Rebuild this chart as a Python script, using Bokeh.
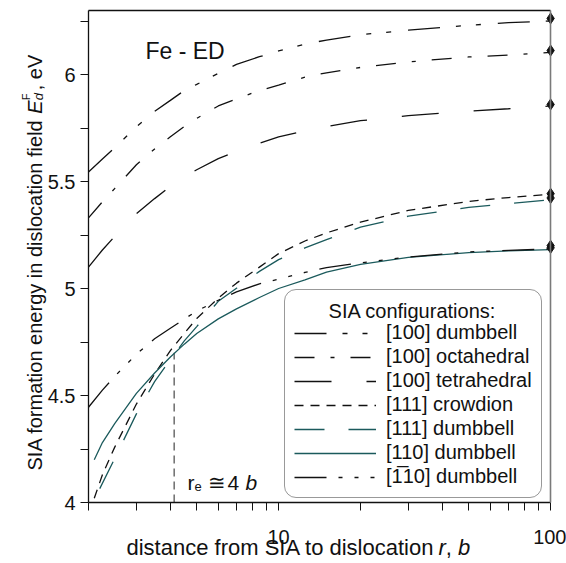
import math
from bokeh.plotting import figure
from bokeh.models import (Legend, LegendItem, Label, FixedTicker, LogAxis,
                          LinearAxis, PrintfTickFormatter, Range1d)
from bokeh.embed import file_html
from bokeh.resources import INLINE

# ---------------- data ----------------
r_a = [2, 2.25, 2.5, 3, 3.5, 4, 4.5, 5, 6, 7, 8.5, 10, 12.5, 15, 20, 30, 50, 70, 100]
r_b = [2.1, 2.25, 2.5, 3, 3.5, 4, 4.5, 5, 6, 7, 8.5, 10, 12.5, 15, 20, 30, 50, 70, 100]
r_c = [2.2, 2.5, 3, 3.5, 4, 4.5, 5, 6, 7, 8.5, 10, 12.5, 15, 20, 30, 50, 70, 100]

e_100_dumbbell = [5.544, 5.605, 5.658, 5.756, 5.828, 5.879, 5.925, 5.954, 6.005, 6.047,
                  6.083, 6.110, 6.142, 6.161, 6.186, 6.207, 6.230, 6.242, 6.250]
e_100_octahedral = [5.330, 5.405, 5.468, 5.578, 5.652, 5.709, 5.757, 5.795, 5.853, 5.886,
                    5.925, 5.950, 5.988, 6.008, 6.033, 6.059, 6.082, 6.091, 6.103]
e_100_tetrahedral = [5.100, 5.180, 5.244, 5.349, 5.420, 5.477, 5.520, 5.555, 5.607, 5.641,
                     5.679, 5.709, 5.737, 5.757, 5.784, 5.808, 5.829, 5.840, 5.853]
e_111_crowdion = [4.020, 4.130, 4.260, 4.460, 4.600, 4.710, 4.790, 4.860, 4.955, 5.025,
                  5.100, 5.163, 5.222, 5.260, 5.310, 5.365, 5.407, 5.425, 5.440]
e_111_dumbbell = [4.065, 4.207, 4.414, 4.565, 4.668, 4.755, 4.822, 4.940, 5.001,
                  5.080, 5.135, 5.190, 5.228, 5.287, 5.338, 5.379, 5.397, 5.415]
e_110_dumbbell = [4.200, 4.280, 4.370, 4.510, 4.605, 4.680, 4.740, 4.790, 4.858, 4.905,
                  4.958, 5.000, 5.040, 5.077, 5.113, 5.145, 5.168, 5.176, 5.182]
e_m110_dumbbell = [4.445, 4.525, 4.590, 4.693, 4.765, 4.814, 4.857, 4.895, 4.945, 4.984,
                   5.022, 5.044, 5.075, 5.098, 5.120, 5.147, 5.171, 5.178, 5.185]

r_end = [100, 100, 100, 100, 100, 100, 100]
e_end = [6.262, 6.112, 5.860, 5.443, 5.423, 5.190, 5.200]

r_e = [4.13]
e_re_low = [4.0]
e_re_high = [4.70]

x_limits = (2, 100)
y_limits = (4, 6.3)
x_major_ticks = [10, 100]
x_minor_ticks = [2, 3, 4, 5, 6, 7, 8, 9, 20, 30, 40, 50, 60, 70, 80, 90]
y_major_ticks = [4, 4.5, 5, 5.5, 6]
y_minor_ticks = [4.25, 4.75, 5.25, 5.75, 6.25]
y_tick_labels = ["4", "4.5", "5", "5.5", "6"]

labels = ["[100] dumbbell", "[100] octahedral", "[100] tetrahedral",
          "[111] crowdion", "[111] dumbbell", "[110] dumbbell",
          "[1\u0305" + "10] dumbbell"]

# ---------------- geometry ----------------
FONT = "Liberation Sans"
BLACK = "#111111"
TEAL = "#1b5a5c"
W, H = 566, 563
PX_X2 = 88.0      # page x of r = 2
PX_DEC = 272.0    # pixels per decade
PY_Y4 = 502.0     # page y of E = 4
PY_UNIT = 214.0   # pixels per eV

def dx(px):  # page px -> data x
    return x_limits[0] * 10 ** ((px - PX_X2) / PX_DEC)

def dy(py):  # page px -> data y
    return y_limits[0] + (PY_Y4 - py) / PY_UNIT

# The frame covers the whole canvas; axes are pinned with fixed_location,
# so every text (titles included) lies inside the frame.
p = figure(width=W, height=H, x_axis_type="log",
           x_range=Range1d(dx(0), dx(W)), y_range=Range1d(dy(H), dy(0)),
           output_backend="svg", toolbar_location=None, min_border=0)
p.grid.visible = False
p.outline_line_color = None
p.background_fill_color = "white"
p.border_fill_color = "white"

xa = p.xaxis[0]
xa.fixed_location = y_limits[0]
xa.bounds = x_limits
xa.ticker = FixedTicker(ticks=x_major_ticks, minor_ticks=x_minor_ticks)
xa.formatter = PrintfTickFormatter(format="%d")
ya = p.yaxis[0]
ya.fixed_location = x_limits[0]
ya.bounds = y_limits
ya.ticker = FixedTicker(ticks=y_major_ticks, minor_ticks=y_minor_ticks)
ya.major_label_overrides = {v: s for v, s in zip(y_major_ticks, y_tick_labels)}
for ax in (xa, ya):
    ax.major_tick_in = 0
    ax.major_tick_out = 8
    ax.minor_tick_in = 0
    ax.minor_tick_out = 8
    ax.axis_line_color = BLACK
    ax.axis_line_width = 1.3
    ax.major_tick_line_color = BLACK
    ax.minor_tick_line_color = BLACK
    ax.major_tick_line_width = 1
    ax.minor_tick_line_width = 1
    ax.major_label_text_font = FONT
    ax.major_label_text_font_size = "20px"
    ax.major_label_text_color = BLACK
xa.major_label_standoff = 19
ya.major_label_standoff = 5

# top border (black) and right border at r = 100 (gray)
top = LogAxis(fixed_location=y_limits[1], bounds=x_limits,
              ticker=FixedTicker(ticks=[], minor_ticks=[]),
              axis_line_color=BLACK, axis_line_width=1.3,
              major_tick_line_color=None, minor_tick_line_color=None,
              major_label_text_font_size="0px")
p.add_layout(top, "above")
right = LinearAxis(fixed_location=x_limits[1], bounds=y_limits,
                   ticker=FixedTicker(ticks=[], minor_ticks=[]),
                   axis_line_color="#7a7a7a", axis_line_width=1.6,
                   major_tick_line_color=None, minor_tick_line_color=None,
                   major_label_text_font_size="0px")
p.add_layout(right, "right")

p.segment(x0=r_e, y0=e_re_low, x1=r_e, y1=e_re_high, line_color="#555555",
          line_width=1.3, line_dash="8 5")

specs = [
    (r_a, e_100_dumbbell, BLACK, "32 16 5 15 5 17"),
    (r_a, e_100_octahedral, BLACK, "20 16 4 16"),
    (r_a, e_100_tetrahedral, BLACK, "37 35"),
    (r_b, e_111_crowdion, BLACK, "9 7"),
    (r_c, e_111_dumbbell, TEAL, "30 24"),
    (r_b, e_110_dumbbell, TEAL, "solid"),
    (r_a, e_m110_dumbbell, BLACK, "32 12 4 12 4 12 4 12"),
]
items = []
for (xs, ys, col, dash), lab_text in zip(specs, labels):
    rend = p.line(xs, ys, line_color=col, line_width=1.3, line_dash=dash)
    items.append(LegendItem(label=lab_text, renderers=[rend]))

p.scatter(r_end, e_end, marker="diamond", size=11, fill_color=BLACK,
          line_color=BLACK)

def lab(text, px, py, size="20px", style="normal", align="left",
        baseline="alphabetic", angle=0.0, level="annotation"):
    p.add_layout(Label(x=dx(px), y=dy(py), text=text, text_font=FONT,
                       text_font_size=size, text_font_style=style,
                       text_align=align, text_baseline=baseline,
                       angle=angle, text_color=BLACK, level=level))

# legend title first (the legend box is transparent, so it shows through)
lab("SIA configurations:", 412, 310, size="20px", align="center",
    baseline="middle")

legend = Legend(items=items, location=(284, H - 498),
                title="\u00a0",
                title_text_font=FONT, title_text_font_size="19px",
                title_standoff=0,
                label_text_font=FONT, label_text_font_size="20px",
                label_text_color=BLACK, label_standoff=10,
                glyph_width=82, glyph_height=20, label_height=20,
                spacing=1, padding=9, margin=0,
                border_line_color="#333333", border_line_width=1.2,
                background_fill_color="white", background_fill_alpha=0.0,
                border_radius=12)
p.add_layout(legend, "center")

lab("Fe - ED", 145, 50, size="23px")
lab("r", 187, 482, size="21px")
lab("e", 194, 486, size="13px")
lab("\u2245", 207, 482, size="21px")
lab("4", 227, 482, size="21px")
lab("b", 245, 482, size="21px", style="italic")

# y title (rotated), pieces reading upward
FS = 20
A = math.pi / 2
BX = 34
y0 = 470
lab("SIA formation energy in dislocation field", BX, y0, size=f"{FS}px", angle=A)
yE = y0 - 17.841 * FS
lab("E", BX, yE, size=f"{FS}px", style="italic", angle=A)
yS = yE - 0.667 * FS
lab("F", BX - 9, yS, size="11px", angle=A)
lab("d", BX + 4, yS, size="13px", style="italic", angle=A)
lab(", eV", BX, yS - 10, size=f"{FS}px", angle=A)

# x title pieces
XFS = 22
BL = 547
x0 = 126
lab("distance from SIA to dislocation", x0, BL, size=f"{XFS}px")
xr = x0 + 14.18 * XFS
lab("r", xr, BL, size=f"{XFS}px", style="italic")
lab(",", xr + 0.333 * XFS, BL, size=f"{XFS}px")
lab("b", xr + (0.333 + 0.556) * XFS, BL, size=f"{XFS}px", style="italic")

open("out.html", "w").write(file_html(p, INLINE))
